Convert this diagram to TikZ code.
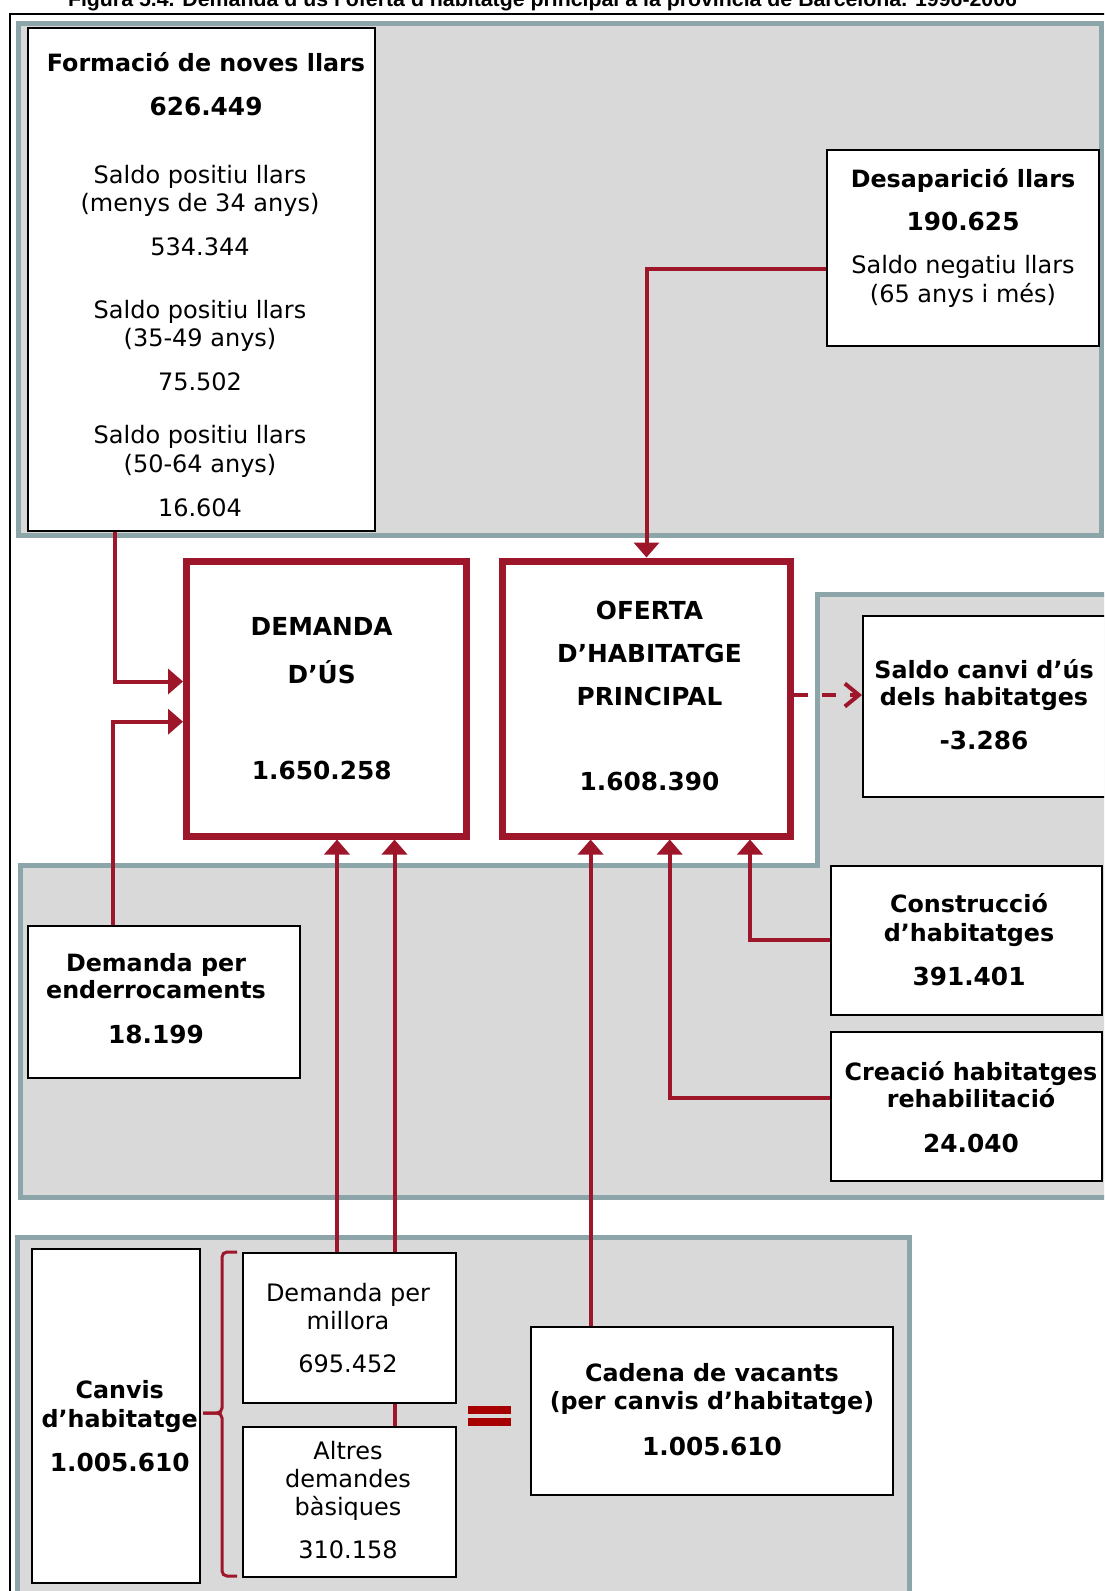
\documentclass[tikz,border=0pt]{standalone}
\usepackage{graphicx}
\usepackage{fontspec}
\setmainfont{DejaVu Sans}
\newfontfamily\titlefont{Liberation Sans}
\usetikzlibrary{arrows.meta}
\definecolor{cred}{RGB}{158,22,42}
\definecolor{pfill}{RGB}{217,217,217}
\definecolor{pedge}{RGB}{139,165,168}
\definecolor{eqred}{RGB}{166,0,0}
\pgfdeclarelayer{panels}
\pgfdeclarelayer{lines}
\pgfsetlayers{panels,lines,main}
\begin{document}
\begin{tikzpicture}[x=0.5pt,y=-0.5pt,
  box/.style={draw=black,line width=1pt,fill=white,inner sep=0pt},
  bigbox/.style={draw=cred,line width=3.5pt,fill=white,inner sep=0pt},
  txt/.style={anchor=base,inner sep=0pt,font=\fontsize{12pt}{14pt}\selectfont},
  btxt/.style={anchor=base,inner sep=0pt,font=\fontsize{11.9pt}{14pt}\selectfont\bfseries},
  ctxt/.style={anchor=base,inner sep=0pt,font=\fontsize{12.4pt}{14pt}\selectfont\bfseries},
  conn/.style={draw=cred,line width=2pt,-{Triangle[length=7.5pt,width=12.5pt]}},
  dconn/.style={draw=cred,line width=2pt,dash pattern=on 7pt off 7pt,-{Straight Barb[length=7pt,width=11.5pt]}},
  panel/.style={draw=pedge,line width=2.5pt,fill=pfill},
  bracestyle/.style={draw=cred,line width=1.5pt,rounded corners=2.5pt}]
\useasboundingbox (0,0) rectangle (1104,1591);
\clip (0,0) rectangle (1104,1591);

\begin{pgfonlayer}{panels}
  \clip (0,0) rectangle (1104,1591);
  \path[panel] (18,23) rectangle (1101,535);
  \path[panel] (817.5,594.5) -- (1130,594.5) -- (1130,1197) -- (20,1197) -- (20,865.5) -- (817.5,865.5) -- cycle;
  \path[panel] (17.5,1237) rectangle (909.5,1630);
  \draw[black,line width=1pt] (10,13.8) rectangle (1130,1630);
\end{pgfonlayer}

% title (cut at top)
\node[anchor=base,inner sep=0pt] (title) at (542.5,6) {\resizebox{474.5pt}{\height}{\titlefont\bfseries\fontsize{10.5pt}{12pt}\selectfont Figura 5.4. Demanda d’ús i oferta d’habitatge principal a la província de Barcelona. 1996-2006}};

% boxes
\node[box,minimum width=173.5pt,minimum height=251.5pt] (fm) at (201.5,279.5) {};
\node[box,minimum width=136pt,minimum height=98pt] (ds) at (963,248) {};
\node[bigbox,minimum width=139.75pt,minimum height=137.5pt] (dm) at (326.25,698.5) {};
\node[bigbox,minimum width=143.75pt,minimum height=137.5pt] (of) at (646.25,698.5) {};
\node[box,minimum width=124.5pt,minimum height=90.5pt] (sc) at (987.5,706.5) {};
\node[box,minimum width=135.5pt,minimum height=74.5pt] (co) at (966.5,940.5) {};
\node[box,minimum width=135.5pt,minimum height=74.5pt] (cr) at (966.5,1106.5) {};
\node[box,minimum width=136pt,minimum height=76pt] (en) at (164,1001.5) {};
\node[box,minimum width=84.25pt,minimum height=167pt] (cv) at (115.75,1416) {};
\node[box,minimum width=106.5pt,minimum height=75pt] (ml) at (349.5,1328) {};
\node[box,minimum width=106.5pt,minimum height=75pt] (al) at (349.5,1502) {};
\node[box,minimum width=181pt,minimum height=84pt] (cd) at (712,1411) {};

% helper coordinates for connector routes
\coordinate (k1) at (114.5,681.5);
\coordinate (k2) at (113.3,721.7);
\coordinate (k3) at (646.5,269);
\coordinate (k4) at (337,0);
\coordinate (k5) at (394.5,0);
\coordinate (k6) at (590.6,0);
\coordinate (k7) at (669.7,1098);
\coordinate (k8) at (750,939.6);
\coordinate (k9) at (0,695);

\begin{pgfonlayer}{lines}
  \draw[conn] (fm.south -| k1) |- (dm.west |- k1);
  \draw[conn] (en.north -| k2) |- (dm.west |- k2);
  \draw[conn] (ds.west |- k3) -| (of.north -| k3);
  \draw[conn] (ml.north -| k4) -- (dm.south -| k4);
  \draw[conn] (al.north -| k5) -- (dm.south -| k5);
  \draw[conn] (cd.north -| k6) -- (of.south -| k6);
  \draw[conn] (cr.west |- k7) -| (of.south -| k7);
  \draw[conn] (co.west |- k8) -| (of.south -| k8);
  \draw[dconn] (of.east |- k9) -- (sc.west |- k9);
\end{pgfonlayer}

% brace and equal sign
\draw[bracestyle] (237,1252) -- (222,1252) -- (222,1413) -- (203,1413);
\draw[bracestyle] (203,1413) -- (222,1413) -- (222,1576) -- (237,1576);
\fill[eqred] (468,1406) rectangle (511,1414);
\fill[eqred] (468,1418) rectangle (511,1426);

% texts: Formacio
\node[btxt] (fmt1) at (206,71.5) {Formació de noves llars};
\node[ctxt] (fmt2) at (206,115.5) {626.449};
\node[txt] (fmt3) at (200,183) {Saldo positiu llars};
\node[txt] (fmt4) at (200,211.5) {(menys de 34 anys)};
\node[txt] (fmt5) at (200,255) {534.344};
\node[txt] (fmt6) at (200,318) {Saldo positiu llars};
\node[txt] (fmt7) at (200,346.5) {(35-49 anys)};
\node[txt] (fmt8) at (200,390) {75.502};
\node[txt] (fmt9) at (200,443.5) {Saldo positiu llars};
\node[txt] (fmt10) at (200,472) {(50-64 anys)};
\node[txt] (fmt11) at (200,516) {16.604};
% Desaparicio
\node[btxt] (dst1) at (963,187) {Desaparició llars};
\node[ctxt] (dst2) at (963,230.5) {190.625};
\node[txt] (dst3) at (963,273.5) {Saldo negatiu llars};
\node[txt] (dst4) at (963,302.5) {(65 anys i més)};
% Demanda
\node[ctxt] (dmt1) at (321.7,635) {DEMANDA};
\node[ctxt] (dmt2) at (321.7,683) {D’ÚS};
\node[ctxt] (dmt3) at (321.7,779) {1.650.258};
% Oferta
\node[ctxt] (oft1) at (649.5,619) {OFERTA};
\node[ctxt] (oft2) at (649.5,662.5) {D’HABITATGE};
\node[ctxt] (oft3) at (649.5,705) {PRINCIPAL};
\node[ctxt] (oft4) at (649.5,790) {1.608.390};
% Saldo canvi
\node[btxt] (sct1) at (984,678.5) {Saldo canvi d’ús};
\node[btxt] (sct2) at (984,705.5) {dels habitatges};
\node[ctxt] (sct3) at (984,749) {-3.286};
% Construccio
\node[btxt] (cot1) at (969,912.5) {Construcció};
\node[btxt] (cot2) at (969,941) {d’habitatges};
\node[ctxt] (cot3) at (969,985) {391.401};
% Creacio
\node[btxt] (crt1) at (971,1080) {Creació habitatges};
\node[btxt] (crt2) at (971,1107.5) {rehabilitació};
\node[ctxt] (crt3) at (971,1152) {24.040};
% Enderrocaments
\node[btxt] (ent1) at (156,971.5) {Demanda per};
\node[btxt] (ent2) at (156,998.5) {enderrocaments};
\node[ctxt] (ent3) at (156,1043) {18.199};
% Canvis
\node[btxt] (cvt1) at (119.7,1398.5) {Canvis};
\node[btxt] (cvt2) at (119.7,1427) {d’habitatge};
\node[ctxt] (cvt3) at (119.7,1471) {1.005.610};
% Millora
\node[txt] (mlt1) at (348,1301.7) {Demanda per};
\node[txt] (mlt2) at (348,1329.3) {millora};
\node[txt] (mlt3) at (348,1372.7) {695.452};
% Altres
\node[txt] (alt1) at (348,1459.3) {Altres};
\node[txt] (alt2) at (348,1487.3) {demandes};
\node[txt] (alt3) at (348,1515) {bàsiques};
\node[txt] (alt4) at (348,1558.3) {310.158};
% Cadena
\node[btxt] (cdt1) at (712,1381.5) {Cadena de vacants};
\node[btxt] (cdt2) at (712,1409.5) {(per canvis d’habitatge)};
\node[ctxt] (cdt3) at (712,1455) {1.005.610};
\end{tikzpicture}
\end{document}
